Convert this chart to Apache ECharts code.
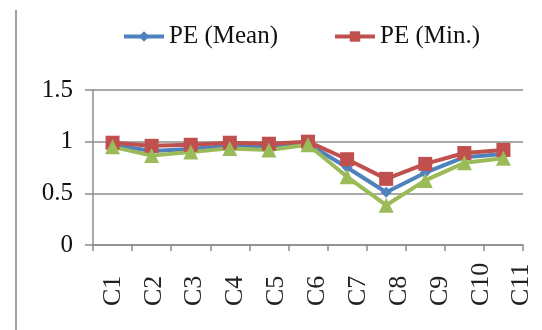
<!DOCTYPE html>
<html><head><meta charset="utf-8">
<script src="https://cdn.jsdelivr.net/npm/echarts@6/dist/echarts.min.js"></script>
<style>html,body{margin:0;padding:0;background:#fff}#c{width:542px;height:330px}</style>
</head><body><div id="c"></div>
<script>
var categories = ['C1','C2','C3','C4','C5','C6','C7','C8','C9','C10','C11'];
var peMean = [0.97, 0.91, 0.93, 0.96, 0.95, 0.98, 0.75, 0.51, 0.70, 0.85, 0.88];
var peMin  = [0.99, 0.96, 0.97, 0.99, 0.98, 1.00, 0.83, 0.64, 0.785, 0.89, 0.92];
var peMax  = [0.95, 0.865, 0.90, 0.935, 0.92, 0.97, 0.66, 0.385, 0.625, 0.795, 0.84];
var yTicks = [0, 0.5, 1, 1.5];

var chart = echarts.init(document.getElementById('c'));
chart.setOption({
  animation: false,
  backgroundColor: '#fff',
  graphic: [{type:'line', shape:{x1:16,y1:10,x2:16,y2:330}, style:{stroke:'#a0a0a0',lineWidth:2}}],
  legend: {
    data: ['PE (Mean)', 'PE (Min.)'],
    top: 19, left: 117,
    itemWidth: 40, itemHeight: 13, itemGap: 55,
    lineStyle: {width: 4},
    textStyle: {fontFamily: 'Liberation Serif', fontSize: 25, color: '#111'}
  },
  grid: [
    {left: 93, right: 19, top: 90, bottom: 85},
    {left: 92.5, width: 450, top: 90, bottom: 85}
  ],
  xAxis: [{
    type: 'category', data: categories, boundaryGap: true, gridIndex: 0,
    axisLine: {lineStyle: {color: '#8c8c8c', width: 1.5}},
    axisTick: {show: true, length: 6, lineStyle: {color: '#8c8c8c', width: 1.5}},
    axisLabel: {show: false}
  }, {
    type: 'category', data: categories, boundaryGap: true, gridIndex: 1,
    axisLine: {show: false}, axisTick: {show: false},
    axisLabel: {rotate: 90, align: 'left', fontFamily: 'Liberation Sans Narrow', fontSize: 26, color: '#222', margin: 61}
  }],
  yAxis: [{
    type: 'value', min: 0, max: 1.5, interval: 0.5, gridIndex: 0,
    axisLine: {show: true, lineStyle: {color: '#8c8c8c', width: 1.5}},
    axisTick: {show: true, length: 8, lineStyle: {color: '#8c8c8c', width: 1.5}},
    splitLine: {lineStyle: {color: '#8c8c8c', width: 1.5}},
    axisLabel: {fontFamily: 'Liberation Serif', fontSize: 25, color: '#111', margin: 20,
      formatter: function(v){ return yTicks.indexOf(v) >= 0 ? String(v) : ''; }}
  }, {
    type: 'value', min: 0, max: 1.5, gridIndex: 1, show: false
  }],
  series: [
    {name: 'PE (Mean)', type: 'line', data: peMean, symbol: 'diamond', symbolSize: 11,
     itemStyle: {color: '#4F81BD'}, lineStyle: {width: 4, color: '#4F81BD'}},
    {name: 'PE (Min.)', type: 'line', data: peMin, symbol: 'rect', symbolSize: 14,
     itemStyle: {color: '#C0504D'}, lineStyle: {width: 4, color: '#C0504D'}},
    {name: 'PE (Max.)', type: 'line', data: peMax, symbol: 'triangle', symbolSize: 15,
     itemStyle: {color: '#9BBB59'}, lineStyle: {width: 4, color: '#9BBB59'}}
  ]
});
</script></body></html>
